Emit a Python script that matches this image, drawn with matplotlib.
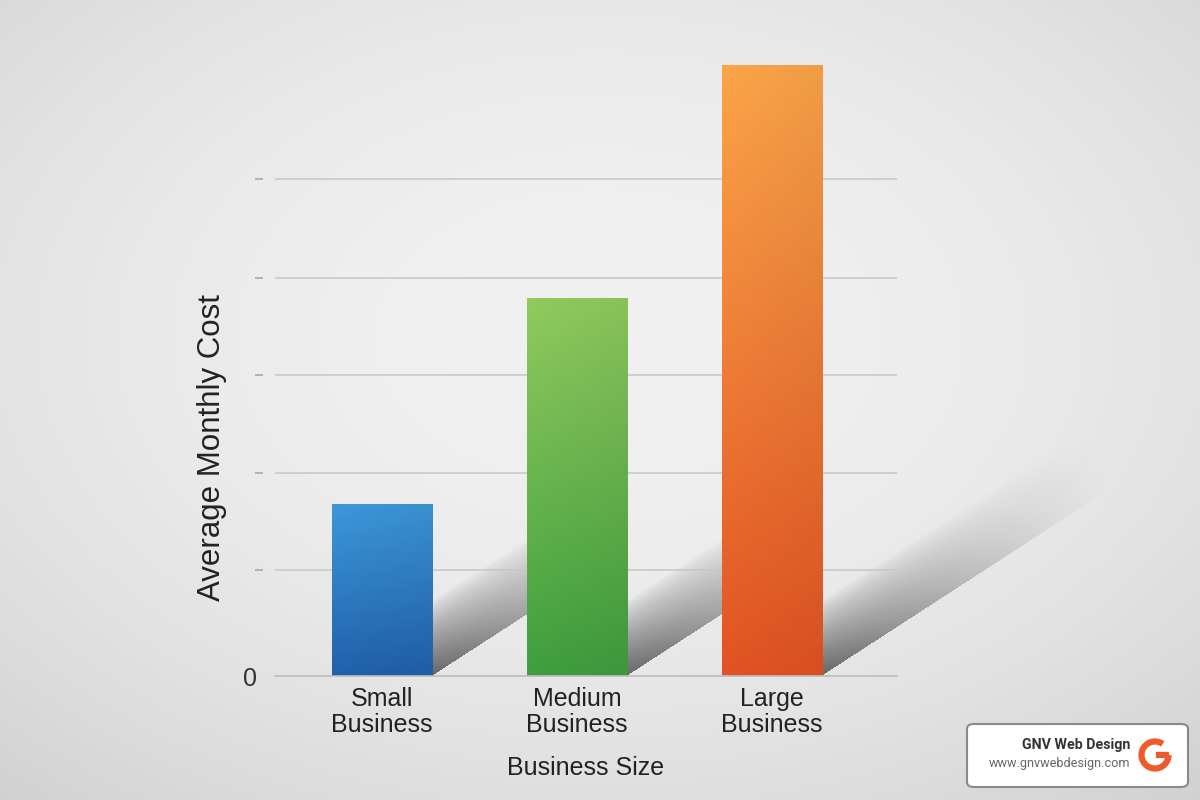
import numpy as np
import matplotlib
matplotlib.use('Agg')
import matplotlib.pyplot as plt
from matplotlib.colors import to_rgb
from matplotlib.patches import FancyBboxPatch, Arc

# chart data (y values in grid units)
categories = ['Small\nBusiness', 'Medium\nBusiness', 'Large\nBusiness']
costs = [1.75, 3.85, 6.23]
grid_levels = [1.08, 2.07, 3.07, 4.06, 5.07]
top_colors = ['#3b93d3', '#8cc55b', '#f4a047']
bottom_colors = ['#1f5ea6', '#3d9a3d', '#dc5022']

plt.rcParams['font.family'] = ['Liberation Sans', 'DejaVu Sans']

fig = plt.figure(figsize=(12, 8), dpi=100)

# radial grey background
bg = fig.add_axes([0, 0, 1, 1], zorder=0)
yy, xx = np.mgrid[0:1:800j, 0:1:1200j]
r2 = ((xx - 0.5) / 0.75) ** 2 + ((yy - 0.42) / 0.75) ** 2
shade = np.clip(0.945 - 0.12 * r2, 0, 1)
bg.imshow(np.dstack([shade, shade, shade]), extent=[0, 1, 0, 1],
          aspect='auto', origin='upper')
bg.axis('off')

ax_pos = [275 / 1200, 0.155, 622 / 1200, 637 / 800]
xlim = (-0.549, 2.641)
ylim = (0, 6.5)
ax = fig.add_axes(ax_pos, zorder=1)
ax.patch.set_alpha(0)

x = np.arange(len(categories))
w = 0.513
bars = ax.bar(x, costs, width=w, color=bottom_colors, zorder=2)

# gradient fill of the bars (a bit lighter on the left)
gv = np.linspace(0, 1, 120)[:, None, None]
gh = np.linspace(0, 1, 40)[None, :, None]
for b, c0, c1 in zip(bars, top_colors, bottom_colors):
    rgb = (1 - gv) * np.array(to_rgb(c0)) + gv * np.array(to_rgb(c1))
    rgb = np.clip(rgb * (1.03 - 0.05 * gh), 0, 1)
    ax.imshow(rgb, extent=[b.get_x(), b.get_x() + b.get_width(), 0, b.get_height()],
              aspect='auto', origin='upper', zorder=2.1)

ax.set_xlim(*xlim)
ax.set_ylim(*ylim)

# diagonal shadows: a full-figure layer that uses the same data scale as ax
sx = (xlim[1] - xlim[0]) / ax_pos[2]
sy = (ylim[1] - ylim[0]) / ax_pos[3]
fx0 = xlim[0] - ax_pos[0] * sx
fx1 = fx0 + sx
fy0 = ylim[0] - ax_pos[1] * sy
fy1 = fy0 + sy
sh = fig.add_axes([0, 0, 1, 1], zorder=0.5)
X, Y = np.meshgrid(np.linspace(fx0, fx1, 1200), np.linspace(fy1, fy0, 800))
alpha = np.zeros_like(X)
slope = 1.29
band = 0.77
for i, b in enumerate(bars):
    xr = b.get_x() + b.get_width()
    if i < len(bars) - 1:
        L = bars[i + 1].get_x() - xr
    else:
        L = 1.5
    t = X - xr
    s = (Y - slope * t) / band
    inside = (t >= 0) & (t <= L) & (s >= 0) & (s <= 1)
    a = 0.55 * np.clip(1 - t / 1.5, 0, 1) ** 1.5 * np.clip(1 - s, 0, 1) ** 0.8
    alpha = np.maximum(alpha, np.where(inside, a, 0))
rgba = np.zeros(X.shape + (4,))
rgba[..., 3] = alpha
sh.imshow(rgba, extent=[fx0, fx1, fy0, fy1], origin='upper', aspect='auto')
sh.set_xlim(fx0, fx1)
sh.set_ylim(fy0, fy1)
sh.axis('off')

# y axis: only "0" labelled, short marks at the grid lines
ax.set_yticks([0])
ax.set_yticklabels(['0'])
ax.set_yticks(grid_levels, minor=True)
ax.tick_params(axis='y', which='major', length=0, labelsize=18, labelcolor='#333333', pad=4)
ax.tick_params(axis='y', which='minor', length=6, width=1.2, color='#a8a8a8')
ax.spines['left'].set_position(('outward', 9))
ax.spines['left'].set_visible(False)
ax.grid(axis='y', which='minor', color='#c6c6c6', lw=1.1)
ax.set_axisbelow(True)

ax.set_xticks(x, categories)
ax.tick_params(axis='x', length=0, labelsize=18, labelcolor='#222222', pad=8)
for lbl in ax.get_xticklabels():
    lbl.set_linespacing(1.1)

for sp in ['top', 'right']:
    ax.spines[sp].set_visible(False)
ax.spines['bottom'].set_color('#bdbdbd')
ax.spines['bottom'].set_linewidth(1.2)

ax.set_xlabel('Business Size', fontsize=18, color='#222222', labelpad=14)
ax.set_ylabel('Average Monthly Cost', fontsize=22.5, color='#222222', va='center')
ax.yaxis.set_label_coords(-0.101, 0.358)

# logo box
box = FancyBboxPatch((967 / 1200, 13 / 800), 221 / 1200, 63 / 800,
                     boxstyle='round,pad=0,rounding_size=0.006', transform=fig.transFigure,
                     fc='white', ec='#8a8a8a', lw=1.5, zorder=5)
fig.add_artist(box)
fig.text(1130 / 1200, 1 - 745 / 800, 'GNV Web Design', ha='right', va='center',
         fontsize=10.3, weight='bold', family='Roboto', color='#333333', zorder=6)
fig.text(1130 / 1200, 1 - 764 / 800, 'www.gnvwebdesign.com', ha='right', va='center',
         fontsize=9.1, family='Roboto', color='#666666', zorder=6)

icon = fig.add_axes([(1155 - 18) / 1200, (800 - 755 - 18) / 800, 36 / 1200, 36 / 800], zorder=6)
icon.set_xlim(-1, 1)
icon.set_ylim(-1, 1)
icon.set_aspect('equal')
icon.add_patch(Arc((0, 0), 1.5, 1.5, theta1=55, theta2=360, lw=4.5, color='#ee5a2b'))
icon.plot([0.05, 0.75], [0, 0], color='#ee5a2b', lw=4.5, solid_capstyle='butt')
icon.axis('off')

fig.savefig('out.png', dpi=100)
